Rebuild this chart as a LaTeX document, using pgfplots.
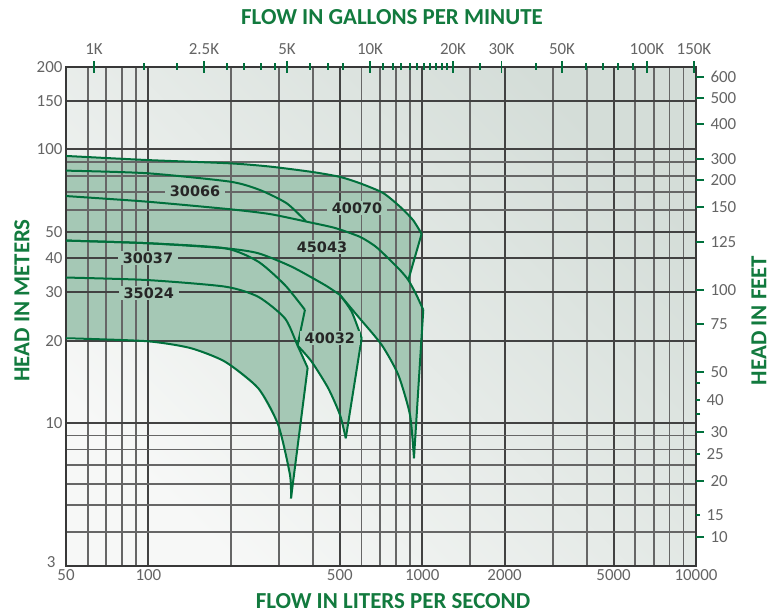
\documentclass[border=0pt]{standalone}
\usepackage{fontspec}
\setmainfont{Carlito}
\newfontfamily\lblfont{DejaVu Sans}
\usepackage{pgfplots}
\pgfplotsset{compat=1.18}
\definecolor{titlegreen}{RGB}{18,122,62}
\definecolor{curvegreen}{RGB}{0,112,60}
\definecolor{fillgreen}{RGB}{165,200,181}
\definecolor{tickgray}{RGB}{100,100,100}
\definecolor{bglight}{RGB}{247,248,247}
\definecolor{bgdark}{RGB}{212,221,216}
\newcommand\titlefont{\fontsize{23}{23}\selectfont\bfseries}
\newcommand\tickfont{\fontsize{17}{17}\selectfont}
\begin{document}
\begin{tikzpicture}
\begin{axis}[
  set layers,
  scale only axis, width=630bp, height=499bp,
  xmode=log, ymode=log,
  xmin=50, xmax=10000, ymin=3, ymax=200,
  axis background/.style={top color=bgdark, bottom color=bglight, shading angle=-45},
  xtick={50,100,500,1000,2000,5000,10000},
  xticklabels={50,100,500,1000,2000,5000,10000},
  minor xtick={60,70,80,90,200,300,400,600,700,800,900,1500,3000,4000,6000,7000,8000,9000},
  ytick={10,20,30,40,50,100,150,200},
  yticklabels={10,20,30,40,50,100,150,200},
  extra y ticks={3},
  extra y tick labels={3},
  extra y tick style={yticklabel style={xshift=-7bp, yshift=4bp}},
  minor ytick={4,5,6,7,8,9,60,70,80,90},
  grid=both,
  major grid style={black!74, line width=1.9bp},
  minor grid style={black!60, line width=1.9bp},
  major tick length=0pt, minor tick length=0pt,
  axis line style={black!78, line width=1.6bp},
  ticklabel style={font=\tickfont, text=tickgray},
]
% ---- filled regions ----
% 40070
\addplot[fill=fillgreen, draw=none, on layer=axis background] coordinates {
 (50,94.6) (98.6,91.4) (198.6,88.9) (278,86.5) (399,82.6) (501,79.3) (592,75.2) (719,69.3) (830,61.7) (925,55.2) (995,49.1)
 (889.6,33.3) (830,36.2) (743.7,40.4) (672.5,44.3) (592,47.9) (480,51.6) (378.5,54.4) (278,58.0) (198.6,60.4) (98.6,64.4) (50,67.5)};
% 45043
\addplot[fill=fillgreen, draw=none, on layer=axis background] coordinates {
 (50,67.5) (98.6,64.4) (198.6,60.4) (278,58.0) (378.5,54.4) (480,51.6) (592,47.9) (672.5,44.3) (743.7,40.4) (830,36.2) (889.6,33.3) (949,29.6) (1009,25.9)
 (933,7.43) (902.5,10.69) (818,14.97) (711,19.3) (584,24.45) (501,29.35) (441.6,31.9) (333.7,37.25) (252,41.7) (190.4,43.5) (98.6,45.4) (50,46.4)};
% 40032
\addplot[fill=fillgreen, draw=none, on layer=axis background] coordinates {
 (50,46.4) (98.6,45.4) (190.4,43.5) (252,41.7) (333.7,37.25) (441.6,31.9) (501,29.35) (552.6,25.5) (601,20.4)
 (525.7,8.79) (501,10.69) (453.9,13.38) (394.7,16.75) (350.5,19.2) (315.4,24.1) (252,28.9) (190.4,31.5) (98.6,33.3) (50,34.0)};
% 35024
\addplot[fill=fillgreen, draw=none, on layer=axis background] coordinates {
 (50,34.0) (98.6,33.3) (190.4,31.5) (252,28.9) (315.4,24.1) (350.5,19.2) (381.6,15.9)
 (331.7,5.30) (328.9,6.46) (298,9.83) (252,13.38) (190.4,16.75) (141.9,18.8) (98.6,19.9) (50,20.4)};
% ---- curves ----
\tikzset{cv/.style={curvegreen, line width=2bp, no marks, line join=round}}
% L1 (40070 max) + end line
\addplot[cv, smooth, tension=0.4] coordinates {(50,94.6) (98.6,91.4) (198.6,88.9) (278,86.5) (399,82.6) (501,79.3) (592,75.2) (719,69.3) (830,61.7) (925,55.2) (995,49.1)};
\addplot[cv] coordinates {(995,49.1) (889.6,33.3)};
% L2 (30066)
\addplot[cv, smooth, tension=0.4] coordinates {(50,83.6) (98.6,81.8) (198.6,76.2) (255.6,71.0) (320,63.5) (376,54.6)};
% L3 + end line
\addplot[cv, smooth, tension=0.4] coordinates {(50,67.5) (98.6,64.4) (198.6,60.4) (278,58.0) (378.5,54.4) (480,51.6) (592,47.9) (672.5,44.3) (743.7,40.4) (830,36.2) (889.6,33.3) (949,29.6) (1009,25.9)};
\addplot[cv] coordinates {(1009,25.9) (933,7.43)};
% L4 (30037 max) + end line
\addplot[cv, smooth, tension=0.4] coordinates {(50,46.4) (98.6,45.4) (190.4,43.5) (252,38.85) (315.4,31.9) (373,25.9)};
\addplot[cv] coordinates {(373,25.9) (350.5,19.2)};
% shared curve + 40032 max + end line
\addplot[cv, smooth, tension=0.4] coordinates {(50,46.4) (98.6,45.4) (190.4,43.5) (252,41.7) (333.7,37.25) (441.6,31.9) (501,29.35)};
\addplot[cv, smooth, tension=0.4] coordinates {(501,29.35) (552.6,25.5) (601,20.4)};
\addplot[cv] coordinates {(601,20.4) (525.7,8.79)};
% 45043 min
\addplot[cv, smooth, tension=0.4] coordinates {(501,29.35) (584,24.45) (711,19.3) (818,14.97) (902.5,10.69) (933,7.43)};
% L5 (35024 max) + end line
\addplot[cv, smooth, tension=0.4] coordinates {(50,34.0) (98.6,33.3) (190.4,31.5) (252,28.9) (315.4,24.1) (350.5,19.2) (381.6,15.9)};
\addplot[cv] coordinates {(381.6,15.9) (331.7,5.30)};
% 40032 min
\addplot[cv, smooth, tension=0.4] coordinates {(350.5,19.2) (394.7,16.75) (453.9,13.38) (501,10.69) (525.7,8.79)};
% L6 (35024 min)
\addplot[cv, smooth, tension=0.4] coordinates {(50,20.4) (98.6,19.9) (141.9,18.8) (190.4,16.75) (252,13.38) (298,9.83) (328.9,6.46) (331.7,5.30)};
% ---- labels ----
\tikzset{mlabel/.style={font=\lblfont\bfseries\fontsize{14.5}{14.5}\selectfont, text=black!85, fill=fillgreen, inner xsep=5bp, inner ysep=1.5bp}}
\node[mlabel] at (axis cs:148,70.4) {30066};
\node[mlabel] at (axis cs:578,61.0) {40070};
\node[mlabel] at (axis cs:430.5,44.0) {45043};
\node[mlabel] at (axis cs:99.6,40.1) {30037};
\node[mlabel] at (axis cs:100.3,29.9) {35024};
\node[mlabel] at (axis cs:460,20.4) {40032};
\end{axis}
% top axis (GPM)
\begin{axis}[
  scale only axis, width=630bp, height=499bp,
  xmin=66, xmax=696, ymin=0, ymax=1,
  axis x line*=top, hide y axis,
  x axis line style={draw=none},
  xtick={94,204,287,370,453,501.5,562,647,694},
  xticklabels={1K,2.5K,5K,10K,20K,30K,50K,100K,150K},
  minor xtick={143.6,177,227,244,261,275,310,328,343,383,393,401,410,417,424,430,436,442,447,480,536,586,603,618,633},
  tick align=center,
  major tick length=12bp, minor tick length=7bp,
  tick style={curvegreen, line width=1.8bp},
  xticklabel style={font=\tickfont, text=tickgray, yshift=3bp},
]
\addplot[draw=none, no marks] coordinates {(66,0) (696,1)};
\end{axis}
% right axis (feet)
\begin{axis}[
  scale only axis, width=630bp, height=499bp,
  xmin=0, xmax=1, ymin=-566, ymax=-67,
  axis y line*=right, hide x axis,
  y axis line style={draw=none},
  ytick={-76.7,-98.3,-124,-159,-180,-207,-241.7,-290,-324,-371.7,-431.7,-480.7,-537},
  yticklabels={600,500,400,300,200,150,125,100,75,50,30,20,10},
  extra y ticks={-400,-454,-515,-383,-414},
  extra y tick labels={40,25,15,{},{}},
  extra y tick style={major tick length=4bp},
  tick align=outside, major tick length=8bp,
  tick style={curvegreen, line width=1.8bp},
  yticklabel style={font=\tickfont, text=tickgray, xshift=3bp},
]
\addplot[draw=none, no marks] coordinates {(0,-566) (1,-67)};
\end{axis}
\node[font=\titlefont, text=titlegreen] at ([xshift=11bp,yshift=50bp]current axis.north) {FLOW IN GALLONS PER MINUTE};
\node[font=\titlefont, text=titlegreen] at ([xshift=12bp,yshift=-35bp]current axis.south) {FLOW IN LITERS PER SECOND};
\node[font=\titlefont, text=titlegreen, rotate=90] at ([xshift=-44bp,yshift=16bp]current axis.west) {HEAD IN METERS};
\node[font=\titlefont, text=titlegreen, rotate=90] at ([xshift=63bp,yshift=-4bp]current axis.east) {HEAD IN FEET};
\pgfresetboundingbox
\useasboundingbox ([xshift=-66bp,yshift=-50bp]current axis.south west) rectangle ([xshift=75bp,yshift=67bp]current axis.north east);
\end{tikzpicture}
\end{document}
